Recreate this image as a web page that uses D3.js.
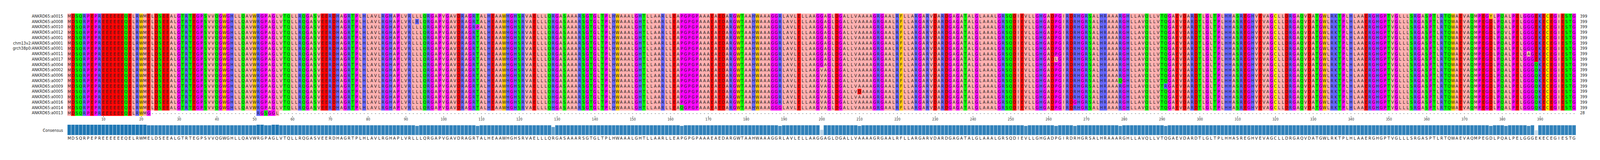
<!DOCTYPE html>
<html>
<head>
<meta charset="utf-8">
<script src="https://cdn.jsdelivr.net/npm/d3@7"></script>
<style>
  html, body { margin: 0; padding: 0; background: #fff; overflow: hidden; }
  svg { display: block; width: 100vw; height: auto; }
  text { font-family: "DejaVu Sans", sans-serif; }
</style>
</head>
<body>
<svg id="chart" viewBox="0 0 4266 409" preserveAspectRatio="xMinYMin meet"></svg>
<script>
// sequence names, top to bottom
const names = [
  "ANKRD65:a0015", "ANKRD65:a0008", "ANKRD65:a0010", "ANKRD65:a0012", "ANKRD65:a0001",
  "chm13v2:ANKRD65:a0001", "grch38p0:ANKRD65:a0001", "ANKRD65:a0011", "ANKRD65:a0017",
  "ANKRD65:a0004", "ANKRD65:a0002", "ANKRD65:a0006", "ANKRD65:a0007", "ANKRD65:a0009",
  "ANKRD65:a0005", "ANKRD65:a0003", "ANKRD65:a0016", "ANKRD65:a0014", "ANKRD65:a0013"
]

// shared sequence, read in chunks
const baseChunks = [
  "MDSQRPEPREEEEEEQELRWME",
  "LDSEEALGTRTEGPSVVQGWGHLLQAVW",
  "RGPAGLVTQLLRQGASVEERDHAGRTPLHLAVLRGHAPL",
  "VRLLLQRGAPVGAVDRAGRTALHEAAWHGHSRVAELLLQRGASAA",
  "ARSGTGLTPLHWAAALGHTLLAARLLEAPGPGPAAAEAEDARGWT",
  "AAHWAAAGGRLAVLELLAAGGAGLDGALLVAAAAGRGAALRFLLA",
  "RGARVDARDGAGATALGLAAALGRSQDIEVLLGHGADPGIRDRHG",
  "RSALHRAAARGHLLAVQLLVTQGAEVDARDTLGLTPLHHASREGH",
  "VEVAGCLLDRGAQVDATGWLRKTPLHLAAERGHGPTVGLLLSRGA",
  "SPTLRTQWAEVAQMPEGDLPQALPELGGGEKECEGIESTG"
]

// [row, position, residue] where a sequence differs
const variants = [
  [1, 93, "R"], [2, 109, "P"],
  [15, 129, "H"], [16, 129, "H"], [17, 129, "H"],
  [17, 163, "Q"], [17, 189, "G"],
  [10, 200, "V"], [11, 200, "V"], [12, 200, "V"], [13, 200, "V"],
  [14, 200, "V"], [15, 200, "V"], [16, 200, "V"], [17, 200, "V"],
  [14, 210, "D"], [11, 254, "L"], [8, 262, "L"], [16, 267, "G"],
  [12, 279, "Q"], [13, 291, "R"],
  [0, 377, "Y"], [3, 381, "V"], [7, 387, "A"],
  [9, 389, "Q"], [10, 389, "Q"], [11, 389, "Q"], [12, 389, "Q"], [13, 389, "Q"],
  [14, 389, "Q"], [15, 389, "Q"], [16, 389, "Q"], [17, 389, "Q"]
]

// the short one: [start, residues], everything else gap
const shortRow = 18
const shortPieces = [[1, "MDSQRPEPREEEEEEQELRWMG"], [51, "RGSGGL"]]

const tickValues = d3.range(10, 400, 10)

const colors = {
  A: "#ffafaf", V: "#ffafaf", L: "#ffafaf", I: "#ffafaf", M: "#ffafaf",
  D: "#ff0000", E: "#ff0000",
  S: "#00ff00", T: "#00ff00", Q: "#00ff00", N: "#00ff00",
  R: "#6464ff", K: "#6464ff", H: "#6464ff",
  G: "#ff00ff", P: "#ff00ff",
  W: "#ffc800", F: "#ffc800", Y: "#ffc800",
  C: "#ffff00"
}

const base = baseChunks.join("").split("")
const nPos = base.length

let rows = names.map(() => base.slice())
variants.forEach(([r, p, c]) => { rows[r][p - 1] = c })
rows[shortRow] = base.map(() => "-")
shortPieces.forEach(([s, str]) => str.split("").forEach((c, i) => { rows[shortRow][s - 1 + i] = c }))

// consensus: most common residue in each column
const consensus = base.map((_, i) => {
  let counts = d3.rollup(rows.map(r => r[i]).filter(c => c != "-"), v => v.length, c => c)
  let best = d3.greatest(counts, d => d[1])
  return {pos: i + 1, res: best[0], frac: best[1] / rows.length}
})

const svg = d3.select("#chart")
const x = d3.scaleBand().domain(d3.range(1, nPos + 1)).range([179.6, 179.6 + nPos * 10.081])
const y = d3.scaleBand().domain(d3.range(names.length)).range([36, 36 + names.length * 14.33])

// cells
rows.forEach((seq, r) => {
  let g = svg.append("g")
  g.selectAll("rect")
    .data(seq.map((c, i) => ({c, pos: i + 1})).filter(d => d.c != "-"))
    .join("rect")
    .attr("x", d => x(d.pos)).attr("y", y(r))
    .attr("width", x.bandwidth() + 0.3).attr("height", y.bandwidth() + 0.3)
    .attr("fill", d => colors[d.c] || "#fff")
  g.selectAll("text")
    .data(seq.map((c, i) => ({c, pos: i + 1})))
    .join("text")
    .attr("x", d => x(d.pos) + x.bandwidth() / 2)
    .attr("y", y(r) + y.bandwidth() / 2 + 4)
    .attr("text-anchor", "middle")
    .style("font-size", "10.5px")
    .attr("fill", d => d.c == "-" ? "#444" : "#222")
    .text(d => d.c)
})

// row labels
svg.append("g").selectAll("text").data(names).join("text")
  .attr("x", 168).attr("y", (d, i) => y(i) + y.bandwidth() / 2 + 3.5)
  .attr("text-anchor", "end")
  .style("font-size", "10px").attr("fill", "#222")
  .text(d => d)

svg.append("g").selectAll("text").data(rows).join("text")
  .attr("x", 4213).attr("y", (d, i) => y(i) + y.bandwidth() / 2 + 3.5)
  .style("font-size", "10px").attr("fill", "#222")
  .text(d => d.filter(c => c != "-").length)

// position axis
const xPos = d3.scaleLinear().domain([1, nPos]).range([x(1) + x.bandwidth() / 2, x(nPos) + x.bandwidth() / 2])
const axis = svg.append("g").attr("transform", "translate(0,309)")
  .call(d3.axisBottom(xPos).tickValues(tickValues).tickSize(3.5).tickPadding(2).tickFormat(d3.format("d")))
axis.select(".domain").remove()
axis.selectAll("line").attr("stroke", "#333")
axis.selectAll("text").style("font-size", "8.5px").style("font-family", "DejaVu Sans").attr("fill", "#333")

// consensus bars
const barH = d3.scaleLinear().domain([0, 1]).range([0, 28.3])
const barOpacity = d3.scaleLinear().domain([0.3, 1]).range([0, 1]).clamp(true)
svg.append("text").attr("x", 168).attr("y", 351)
  .attr("text-anchor", "end").style("font-size", "10px").attr("fill", "#222")
  .text("Consensus")
svg.append("g").selectAll("rect").data(consensus).join("rect")
  .attr("x", d => x(d.pos)).attr("width", x.bandwidth())
  .attr("y", d => 360 - barH(d.frac)).attr("height", d => barH(d.frac))
  .attr("fill", d => d3.interpolateRgb("#ffffff", "#1f77b4")(barOpacity(d.frac)))
  .attr("stroke", "#ffffff").attr("stroke-width", 0.7)
svg.append("g").selectAll("text").data(consensus).join("text")
  .attr("x", d => x(d.pos) + x.bandwidth() / 2).attr("y", 372)
  .attr("text-anchor", "middle").style("font-size", "10.5px").attr("fill", "#222")
  .text(d => d.res)
</script>
</body>
</html>
